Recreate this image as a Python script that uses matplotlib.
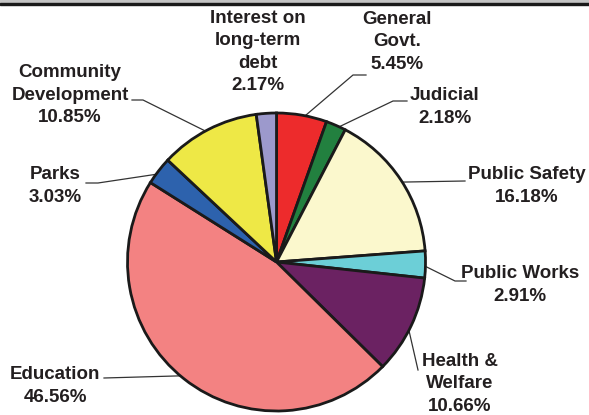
import numpy as np
import matplotlib.pyplot as plt
from matplotlib.patches import Rectangle

# slices, clockwise from 12 o'clock
labels = ["General\nGovt.", "Judicial", "Public Safety", "Public Works",
          "Health &\nWelfare", "Education", "Parks",
          "Community\nDevelopment", "Interest on\nlong-term\ndebt"]
values = [5.45, 2.18, 16.18, 2.91, 10.66, 46.56, 3.03, 10.85, 2.17]
colors = ["#ed2b2c", "#22803f", "#fbf8cd", "#6ccfd7", "#6b2262",
          "#f38282", "#2d62ad", "#eee846", "#9c99cc"]

W, H = 589, 415
cx, cy, R = 276.5, H - 262, 149

# label centres (px from top-left) and leader elbows (None = no leader)
label_pos = [(397, 42), (445, 107), (527, 186), (520, 285), (460, 384),
             (55, 386), (55, 186), (70, 95), (258, 52)]
elbows = [[(353, 75), (366, 75)],
          [(393, 101), (407, 101)],
          [(465, 181)],
          [(455, 281), (466, 281)],
          [(418, 370)],
          [(104, 378)],
          [(98, 183), (86, 183)],
          [(143, 100), (132, 100)],
          None]

fig = plt.figure(figsize=(W / 100, H / 100), dpi=100)
ax = fig.add_axes([0, 0, 1, 1])

ax.pie(values, colors=colors, startangle=90, counterclock=False,
       center=(cx, cy), radius=R, frame=True,
       wedgeprops=dict(edgecolor="#1a1a1a", linewidth=2.0))
ax.set_xlim(0, W)
ax.set_ylim(0, H)
ax.axis("off")

# top border
ax.add_patch(Rectangle((0, H - 3), W, 3, color="#c4c4c4", clip_on=False))
ax.add_patch(Rectangle((0, H - 5.5), W, 2.5, color="#1a1a1a", clip_on=False))

cum = np.cumsum([0] + values[:-1])
for lab, v, c0, pos, elb in zip(labels, values, cum, label_pos, elbows):
    ax.text(pos[0], H - pos[1], f"{lab}\n{v:.2f}%", ha="center", va="center",
            fontsize=13.5, fontweight="bold", family="Liberation Sans",
            color="#231f20", linespacing=1.4)
    if elb is None:
        continue
    ang = np.deg2rad(90 - (c0 + v / 2) / 100 * 360)
    pts = [(cx + (R - 4) * np.cos(ang), cy + (R - 4) * np.sin(ang))]
    pts += [(x, H - y) for x, y in elb]
    xs, ys = zip(*pts)
    ax.plot(xs, ys, color="#333333", linewidth=0.9, zorder=0.5)

fig.savefig("out.png", dpi=100)
